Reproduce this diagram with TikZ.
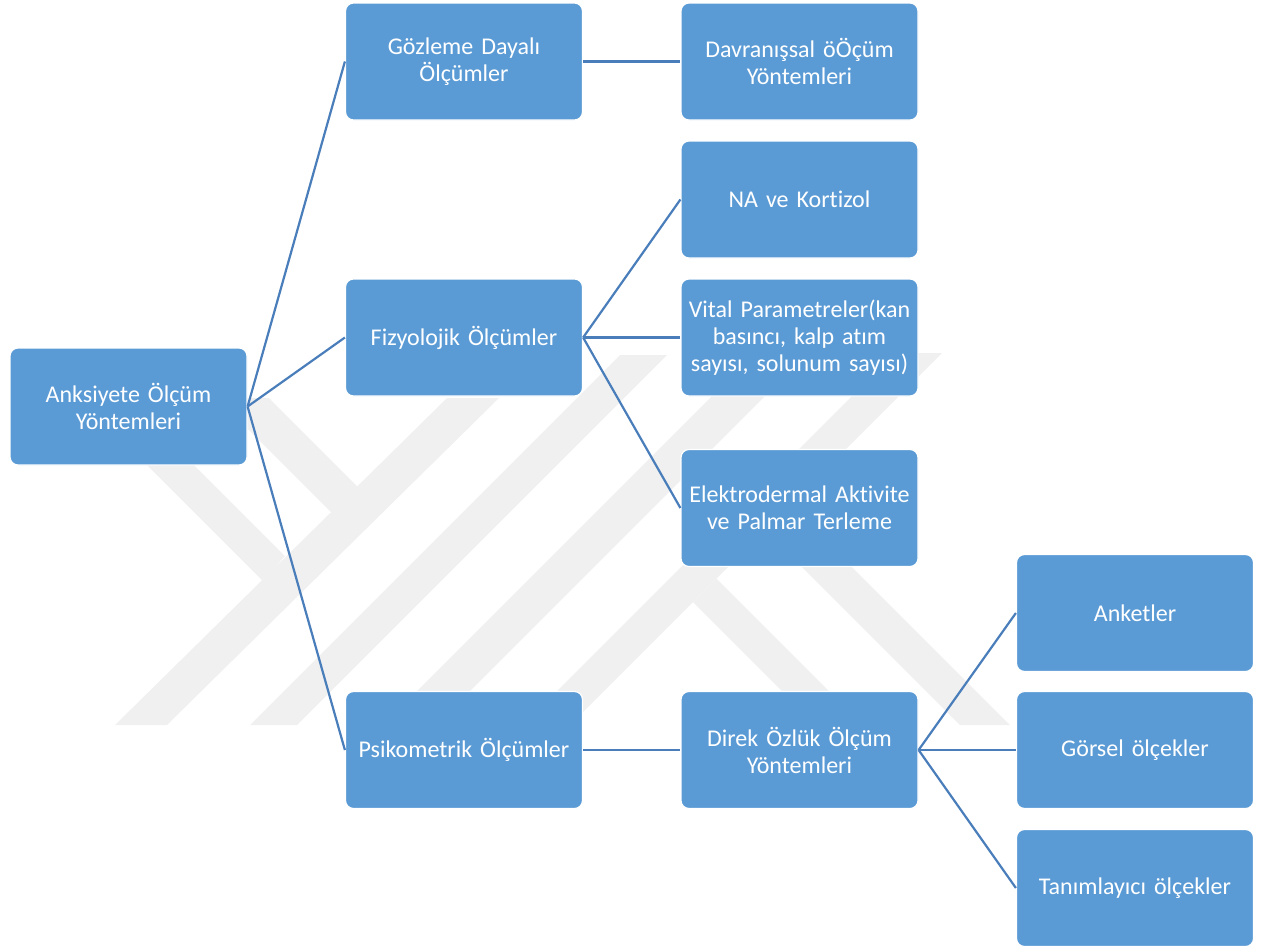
\documentclass[tikz,border=0pt]{standalone}
\usepackage{fontspec}
\setmainfont{Carlito}[Ligatures=NoCommon]
\definecolor{boxblue}{HTML}{5B9BD5}
\definecolor{linkblue}{HTML}{4A7EBB}
\definecolor{wm}{RGB}{240,240,240}
\begin{document}
\begin{tikzpicture}[x=1pt,y=-1pt,
  box/.style={rectangle, rounded corners=8pt, fill=boxblue, draw=white, line width=1.2pt,
    minimum width=237pt, minimum height=117pt, text width=234pt, align=center,
    text=white, font=\fontsize{24}{27}\selectfont, inner sep=0pt},
  link/.style={draw=linkblue, line width=2.2pt},
  wmark/.style={fill=wm, draw=none}]
\useasboundingbox (0,0) rectangle (1263,946);
% watermark
\fill[wmark] (115,725) -- (167,725) -- (499,398) -- (447,398) -- cycle;
\fill[wmark] (250,725) -- (297,725) -- (667,355) -- (620,355) -- cycle;
\fill[wmark] (383,725) -- (436,725) -- (806,355) -- (753,355) -- cycle;
\fill[wmark] (523,725) -- (570,725) -- (942,353) -- (895,353) -- cycle;
\fill[wmark] (80,398) -- (127,398) -- (285,556) -- (263,581) -- cycle;
\fill[wmark] (217,398) -- (269,398) -- (358,487) -- (332,513) -- cycle;
\fill[wmark] (693,602) -- (816,725) -- (863,725) -- (716.5,578.5) -- (700,595) -- cycle;
\fill[wmark] (793,558) -- (843,558) -- (1010,725) -- (960,725) -- cycle;
% boxes
\node[box] (root) at (128.5,406.5) {Anksiyete Ölçüm\\Yöntemleri};
\node[box] (goz) at (464,61.5) {Gözleme Dayalı\\Ölçümler};
\node[box] (fiz) at (464,337.5) {Fizyolojik Ölçümler};
\node[box] (psi) at (464,750) {Psikometrik Ölçümler};
\node[box] (dav) at (799.5,61.5) {Davranışsal öÖçüm\\Yöntemleri};
\node[box] (na) at (799.5,199.5) {NA ve Kortizol};
\node[box] (vit) at (799.5,337.5) {Vital Parametreler(kan\\basıncı, kalp atım\\sayısı, solunum sayısı)};
\node[box] (ele) at (799.5,508) {Elektrodermal Aktivite\\ve Palmar Terleme};
\node[box] (dir) at (799.5,750) {Direk Özlük Ölçüm\\Yöntemleri};
\node[box] (ank) at (1135,613) {Anketler};
\node[box] (gor) at (1135,750) {Görsel ölçekler};
\node[box] (tan) at (1135,888) {Tanımlayıcı ölçekler};
% connectors
\draw[link] (root.east) -- (goz.west);
\draw[link] (root.east) -- (fiz.west);
\draw[link] (root.east) -- (psi.west);
\draw[link] (goz.east) -- (dav.west);
\draw[link] (fiz.east) -- (na.west);
\draw[link] (fiz.east) -- (vit.west);
\draw[link] (fiz.east) -- (ele.west);
\draw[link] (psi.east) -- (dir.west);
\draw[link] (dir.east) -- (ank.west);
\draw[link] (dir.east) -- (gor.west);
\draw[link] (dir.east) -- (tan.west);
\end{tikzpicture}
\end{document}
